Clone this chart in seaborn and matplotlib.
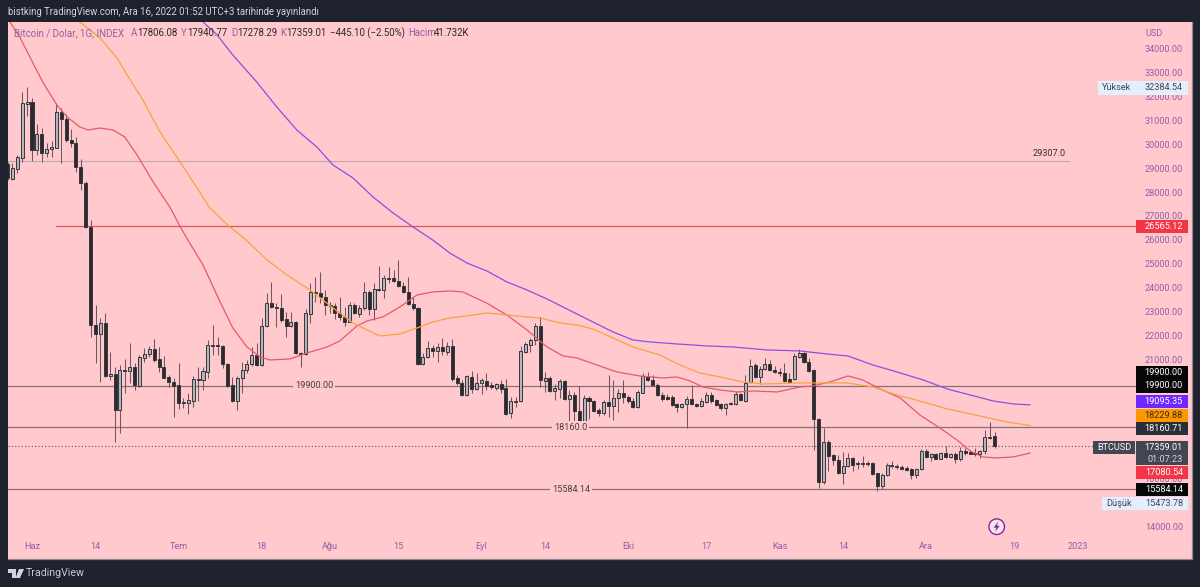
import matplotlib
matplotlib.use('Agg')
import matplotlib.pyplot as plt
from matplotlib.patches import Rectangle, Polygon, Circle
from matplotlib.transforms import Affine2D
import seaborn as sns
import pandas as pd
import numpy as np

# Gunluk mumlar, gun 0 = 1 Haziran 2022
first_day = -5
opens = [29180, 28548, 28967, 29427, 31687,
         31770, 29762, 30431, 29636, 29804, 29846, 31351, 31059, 30180, 30055,
         29050, 28381, 26540, 22440, 22063, 22523, 20306, 20390, 18883, 20557,
         20515, 20682, 19887, 21059, 21226, 21435, 21017, 20682, 20264, 20054,
         19929, 19176, 19176, 19260, 20180, 20138, 20473, 21603, 21603, 21561,
         20808, 19929, 19260, 20222, 20557, 20808, 21184, 20766, 22398, 23360,
         23193, 23151, 22691, 22398, 22565, 21268, 21226, 22900, 23820, 23779,
         23611, 23276, 23234, 22942, 22775, 22565, 23276, 22900, 23151, 23820,
         23109, 23946, 23904, 24406, 24406, 24281, 24071, 23820, 23318, 23151,
         20808, 21100, 21477, 21352, 21519, 21310, 21561, 20222, 20013, 19511,
         20264, 19762, 20013, 20096, 19929, 19803, 19971, 19803, 18757, 19260,
         19260, 21310, 21603, 21812, 22398, 20096, 20222, 19678, 19762, 20096,
         19343, 19511, 18841, 18423, 19385, 19260, 18883, 18757, 19218, 19051,
         19385, 19594, 19427, 19260, 19009, 19594, 20306, 20138, 19929, 19511,
         19427, 19427, 19134, 19009, 19134, 19343, 19134, 19051, 19218, 19511,
         19302, 19134, 18967, 19176, 19134, 19552, 19260, 20054, 20766, 20264,
         20599, 20808, 20557, 20473, 20431, 20180, 20180, 21100, 21268, 20892,
         20557, 18507, 15871, 17544, 17000, 16791, 16246, 16540, 16875, 16665,
         16665, 16665, 16665, 16246, 15703, 16163, 16540, 16540, 16498, 16456,
         16414, 16163, 16414, 17167, 16917, 17042, 16833, 17083, 16917, 17042,
         16833, 17167, 17125, 17083, 17042, 17167, 17753, 17806.08]
highs = [29260, 29217, 29553, 32188, 32384.54,
         31938, 30849, 30682, 30055, 30138, 31728, 31519, 31268, 30640, 30305,
         29385, 28464, 26833, 23276, 22733, 22942, 21310, 20682, 20766, 21017,
         21686, 20850, 21184, 21477, 21561, 21854, 21519, 21142, 20348, 20222,
         20850, 19385, 19594, 20306, 20682, 20682, 21812, 22440, 21938, 21603,
         20850, 20264, 20306, 20892, 20975, 21519, 21686, 22733, 23779, 24239,
         23360, 23737, 22984, 22984, 22607, 21310, 23109, 24197, 24448, 24657,
         23904, 23402, 23360, 23611, 23193, 23402, 23360, 23276, 24239, 23904,
         24197, 24908, 24532, 24866, 24741, 25159, 24239, 24448, 23611, 23193,
         21268, 21770, 21603, 21686, 21896, 21728, 21854, 20348, 20138, 20348,
         20515, 20431, 20222, 20431, 20054, 20013, 20138, 20180, 19427, 19427,
         21561, 21728, 21896, 22523, 22775, 20473, 20306, 19971, 20180, 20138,
         19720, 19636, 19887, 19511, 19469, 19302, 18967, 19302, 20348, 20138,
         19762, 20138, 19511, 19385, 19720, 20431, 20473, 20348, 20013, 19636,
         19552, 19511, 19176, 19176, 19469, 19929, 19176, 19385, 19636, 19636,
         19343, 19176, 19176, 19218, 19678, 19594, 20348, 21017, 20850, 20724,
         21059, 20975, 20724, 20640, 20850, 20431, 21268, 21435, 21310, 21059,
         20599, 18548, 18130, 17628, 17042, 17000, 17125, 17083, 16917, 16749,
         16958, 16749, 16707, 16246, 16246, 16665, 16749, 16623, 16582, 16540,
         16456, 16456, 17251, 17251, 17083, 17083, 17125, 17376, 17083, 17125,
         17335, 17293, 17209, 17293, 17209, 18046, 18381, 17940.77]
lows = [28510, 28506, 28800, 29259, 31184,
        29301, 29553, 29259, 29469, 29469, 29846, 29217, 30096, 29888, 28841,
        28088, 26500, 21938, 20850, 20054, 20264, 20138, 17544, 17920, 19594,
        20013, 19720, 19845, 20892, 21100, 20892, 20473, 20222, 19845, 18590,
        18925, 18967, 18716, 19009, 19260, 19720, 20222, 21184, 21184, 20640,
        19845, 19218, 18883, 19594, 20431, 20724, 20724, 20724, 22356, 23151,
        22356, 22565, 21938, 22356, 21226, 20682, 21184, 22523, 23402, 23360,
        22858, 22942, 22691, 22649, 22398, 22565, 22900, 22775, 23067, 22858,
        22649, 23862, 23570, 24197, 24239, 24029, 23779, 23276, 23067, 20766,
        20766, 21059, 21100, 20892, 21184, 21184, 20096, 19929, 19469, 19469,
        19594, 19720, 19552, 19720, 19762, 19720, 19594, 18674, 18548, 19009,
        19218, 21268, 21310, 21603, 19845, 19636, 19636, 19302, 19385, 19302,
        18256, 18340, 18340, 18340, 18507, 18799, 18632, 18674, 18590, 18465,
        18799, 19176, 19176, 18967, 18967, 19594, 20096, 19887, 19469, 19260,
        19302, 19051, 18799, 18967, 18130, 19092, 19009, 19009, 19176, 19176,
        19051, 18883, 18674, 19092, 19092, 19260, 19218, 20013, 20222, 19971,
        20557, 20515, 20431, 20306, 20054, 20013, 20138, 21059, 20850, 20473,
        17209, 15620, 15787, 16330, 16582, 16205, 15787, 16498, 16330, 16414,
        16498, 16540, 16163, 15494, 15578, 16121, 16456, 16414, 16372, 16330,
        15996, 16038, 16372, 16875, 16749, 16833, 16833, 16875, 16875, 16665,
        16749, 17000, 17042, 16958, 16875, 17042, 17670, 17278.29]
closes = [28590, 29008, 29469, 31728, 31770,
          29762, 30431, 29636, 29804, 29888, 31351, 31059, 30180, 30055, 29050,
          28381, 26540, 22440, 22063, 22523, 20306, 20390, 18883, 20557, 20515,
          20682, 19929, 21100, 21226, 21435, 20975, 20682, 20222, 20054, 19887,
          19176, 19218, 19302, 20180, 20138, 20515, 21603, 21561, 21561, 20808,
          19887, 19260, 20222, 20557, 20808, 21184, 20766, 22398, 23360, 23193,
          23151, 22649, 22398, 22565, 21268, 21226, 22942, 23820, 23779, 23611,
          23276, 23234, 22942, 22775, 22565, 23276, 22942, 23151, 23820, 23109,
          23946, 23904, 24406, 24364, 24281, 24071, 23820, 23318, 23151, 20808,
          21100, 21477, 21352, 21519, 21352, 21561, 20180, 20013, 19511, 20306,
          19762, 20013, 20138, 19887, 19845, 19971, 19762, 18716, 19260, 19218,
          21352, 21644, 21812, 22398, 20138, 20222, 19678, 19803, 20096, 19343,
          19511, 18841, 18381, 19385, 19260, 18841, 18757, 19218, 19051, 19385,
          19594, 19427, 19260, 19009, 19636, 20306, 20138, 19929, 19511, 19343,
          19343, 19092, 19009, 19134, 19343, 19134, 19051, 19260, 19511, 19260,
          19092, 18967, 19134, 19134, 19552, 19302, 20013, 20724, 20264, 20599,
          20808, 20557, 20473, 20431, 20096, 20054, 21142, 21268, 20892, 20515,
          18507, 15871, 17544, 16960, 16791, 16246, 16540, 16875, 16582, 16623,
          16623, 16623, 16205, 15703, 16163, 16582, 16582, 16498, 16414, 16372,
          16163, 16414, 17167, 16917, 17042, 16833, 17083, 16917, 17042, 16833,
          17167, 17083, 17042, 17042, 17167, 17753, 17711, 17359.01]

red_days = [-4.5, -2.5, 0.2, 2.3, 5.1, 7.2, 9.8, 11.5, 13.9, 16.6, 19, 21.5, 24.8, 28.2, 30.7, 31.9, 35, 38.5,
            41.1, 44, 46.7, 48.7, 52.8, 56.3, 60.4, 63, 66.5, 68.6, 71.8, 75.3, 78.8, 82, 85.5, 88.2, 93, 97.2,
            101.3, 105.4, 108.7, 111.5, 115.6, 119.7, 124.4, 129.1, 132, 134.7, 137.3, 140.8, 144.3, 147.6,
            152.5, 157.2, 159.8, 163.3, 167, 170, 173.6, 177.7, 181.7, 185.8, 189.3, 192, 194.6, 197.5, 200.8, 204.3]
red_ma = [35117, 34489, 33402, 32565, 31644, 31142, 30724, 30598, 30682, 30598, 30305, 29553, 28423, 27376, 26414,
          25996, 24950, 23402, 22314, 21519, 21100, 20975, 21017, 21268, 21519, 21770, 22398, 22607, 22775, 23193,
          23695, 23820, 23862, 23820, 23360, 22858, 22230, 21519, 21142, 21059, 20766, 20473, 20306, 20222, 20264,
          20096, 19845, 19720, 19636, 19678, 19636, 19845, 19887, 20054, 20306, 20138, 19762, 19385, 18674, 18130,
          17628, 17167, 16917, 16875, 16917, 17080.54]

orange_days = [9.8, 13.9, 17.4, 20.1, 22.7, 26.2, 30.3, 33.8, 36.4, 40.5, 43.6, 48.1, 52.2, 56.9, 61.6, 65.7, 68.6,
               71.2, 75.3, 78.8, 82, 85.5, 89, 93.1, 97.2, 101.3, 104, 108.1, 111.5, 114.8, 118.9, 123, 128.5, 132.6,
               136.7, 140.8, 145.5, 149.6, 157.2, 159.8, 166.8, 172.1, 177, 182.4, 187.3, 194, 199.5, 204.3]
orange_ma = [35117, 34448, 33611, 32690, 31854, 30515, 29259, 28172, 27335, 26540, 26038, 25159, 24532, 23904, 23151,
             22523, 22230, 21980, 22063, 22314, 22565, 22733, 22816, 22942, 22858, 22775, 22733, 22523, 22440, 22272,
             21896, 21519, 21184, 20766, 20431, 20264, 20054, 19971, 20013, 20013, 20013, 19845, 19511, 19218, 18925,
             18632, 18381, 18229.88]

purple_days = [35, 37.9, 41.1, 46, 50.1, 54.2, 58.3, 61.6, 65.7, 69.8, 73.9, 78, 82, 85.5, 89, 93.1, 97.2, 101.3,
               105.4, 110.7, 114.8, 118.9, 123, 126.5, 132, 138.2, 143.5, 150.4, 157.2, 162.7, 167, 172.1, 177,
               182.4, 187.3, 192, 196.7, 200.8, 204.3]
purple_ma = [35117, 34573, 33736, 32607, 31561, 30598, 29888, 29134, 28590, 27795, 27126, 26540, 25996, 25452, 25034,
             24699, 24239, 23904, 23527, 22984, 22565, 22147, 21812, 21728, 21645, 21561, 21519, 21394, 21352, 21226,
             21142, 20766, 20473, 20138, 19762, 19511, 19260, 19134, 19095.35]

price_ticks = list(range(14000, 35000, 1000))
# bu degerler sag etiketlerin altinda kaliyor
hidden_ticks = [15000, 17000, 18000, 19000, 20000]
date_ticks = [0, 13, 30, 47, 61, 75, 92, 105, 122, 138, 153, 166, 183, 201, 214]
date_labels = ['Haz', '14', 'Tem', '18', 'Ağu', '15', 'Eyl', '14', 'Eki', '17', 'Kas', '14', 'Ara', '19', '2023']

BG = '#ffc9cd'
DARK = '#1e222d'
AXIS_TXT = '#935fa8'
LINE = '#8a6f73'

sns.set_theme(style='white')
plt.rcParams['font.family'] = ['Roboto', 'DejaVu Sans']

fig = plt.figure(figsize=(12, 5.87), dpi=100, facecolor=DARK)
ax = fig.add_axes([8 / 1200, 1 - 558.5 / 587, (1191.7 - 8) / 1200, (558.5 - 22) / 587], facecolor=BG)

# piksel koordinati, etiketler icin
px = Affine2D().scale(1 / 1200, -1 / 587).translate(0, 1) + fig.transFigure

df = pd.DataFrame({'day': first_day + np.arange(len(opens)), 'open': opens, 'high': highs, 'low': lows, 'close': closes})
df['up'] = df['close'] >= df['open']

ax.vlines(df['day'], df['low'], df['high'], color='#6a5a5f', lw=0.75, zorder=2)
body_colors = ['#b3b6bd' if u else '#2b2a2f' for u in df['up']]
ax.bar(df['day'], (df['close'] - df['open']).abs(), bottom=df[['open', 'close']].min(axis=1), width=0.62,
       color=body_colors, edgecolor='#38363b', linewidth=0.7, zorder=3)

sns.lineplot(x=red_days, y=red_ma, ax=ax, color='#e65a68', lw=0.9, sort=False, estimator=None, zorder=4)
sns.lineplot(x=orange_days, y=orange_ma, ax=ax, color='#f9a23f', lw=0.9, sort=False, estimator=None, zorder=4)
sns.lineplot(x=purple_days, y=purple_ma, ax=ax, color='#8b50e2', lw=0.9, sort=False, estimator=None, zorder=4)

day_right = 1136
ax.set_xlim(-4.91, 237.35)
ax.set_ylim(12667, 35117)

def hline(value, x0, x1, color, lw=0.9, ls='-'):
    d0 = (x0 - 32) / 4.886
    d1 = (x1 - 32) / 4.886
    ax.plot([d0, d1], [value, value], color=color, lw=lw, ls=ls, zorder=1.5)

hline(29307, 8, 1069, '#bfa9ad', 0.8)
hline(26565.12, 56, day_right, '#e8505c', 0.9)
hline(19900, 8, day_right, LINE)
hline(18160.71, 8, day_right, LINE)
hline(15584.14, 8, day_right, LINE)
hline(17359.01, 8, 1093, '#5f5458', 0.8, (0, (1, 2)))

ax.set_xticks(date_ticks)
ax.set_xticklabels(date_labels)
ax.yaxis.tick_right()
ax.set_yticks(price_ticks)
ax.set_yticklabels(['' if t in hidden_ticks else f'{t:.2f}' for t in price_ticks], ha='right')
ax.tick_params(axis='y', length=0, pad=-6.3, labelsize=6.6, labelcolor=AXIS_TXT)
ax.tick_params(axis='x', length=0, pad=-12, labelsize=6.6, labelcolor=AXIS_TXT)
ax.set_xlabel('')
ax.set_ylabel('')
for s in ['top', 'left']:
    ax.spines[s].set_visible(False)
for s in ['bottom', 'right']:
    ax.spines[s].set_color('#94858c')
    ax.spines[s].set_linewidth(0.9)

def put(x, y, s, color='#2a2a2e', size=6.6, ha='left', **kw):
    return ax.text(x, y, s, transform=px, color=color, fontsize=size, ha=ha, va='center', clip_on=False, zorder=7, **kw)

def tag(x0, x1, y0, y1, color):
    ax.add_patch(Rectangle((x0, y0), x1 - x0, y1 - y0, transform=px, facecolor=color, edgecolor='none', zorder=6, clip_on=False))

# sag olcek etiketleri
put(1145, 33, 'USD', AXIS_TXT)
tag(1098, 1188, 81, 95, '#e3effd')
put(1102, 88, 'Yüksek', '#434651')
put(1183, 88, '32384.54', '#434651', ha='right')
tag(1136, 1188, 220, 233, '#f23645')
put(1183, 226.5, '26565.12', 'white', ha='right')
tag(1136, 1188, 366, 379, '#060606')
put(1183, 372.5, '19900.00', 'white', ha='right')
tag(1136, 1188, 379, 393, '#060606')
put(1183, 386, '19900.00', 'white', ha='right')
tag(1136, 1188, 395, 408, '#7127ff')
put(1183, 401.5, '19095.35', 'white', ha='right')
tag(1136, 1188, 409, 422, '#ff9800')
put(1183, 415.5, '18229.88', '#3a2a10', ha='right')
tag(1136, 1188, 422, 435, '#2a2e39')
put(1183, 428.5, '18160.71', 'white', ha='right')
tag(1093, 1135, 441, 454, '#434651')
put(1114, 447.5, 'BTCUSD', 'white', ha='center')
tag(1136, 1188, 441, 465, '#434651')
put(1183, 447.5, '17359.01', 'white', ha='right')
put(1183, 459, '01:07:23', '#d1d4dc', ha='right')
tag(1136, 1188, 466, 479, '#f23645')
put(1183, 472.5, '17080.54', 'white', ha='right')
tag(1136, 1188, 483, 496, '#060606')
put(1183, 489.5, '15584.14', 'white', ha='right')
tag(1102, 1188, 497, 510, '#e3effd')
put(1106, 503, 'Düşük', '#434651')
put(1183, 503.5, '15473.78', '#434651', ha='right')

# yatay cizgi etiketleri
box = dict(facecolor=BG, edgecolor='none', pad=1.5)
put(1033, 153, '29307.0', '#3a3034')
put(295, 386, '19900.00', '#4a3f43', bbox=box)
put(554, 428, '18160.0', '#4a3f43', bbox=box)
put(552, 489.5, '15584.14', '#4a3f43', bbox=box)

# ust baslik ve sembol satiri
fig.text(8 / 1200, 1 - 12 / 587, 'bistking TradingView.com, Ara 16, 2022 01:52 UTC+3 tarihinde yayınlandı', color='#d1d4dc', fontsize=6.9, va='center')
put(14, 33, 'Bitcoin / Dolar, 1G, INDEX', AXIS_TXT, 7.05)
for x, s in [(131, 'A'), (181, 'Y'), (231, 'D'), (280, 'K'), (408, 'Hacim')]:
    put(x, 33, s, AXIS_TXT, 6.9)
for x, s in [(137, '17806.08'), (187, '17940.77'), (237, '17278.29'), (286, '17359.01'), (330, '−445.10 (−2.50%)'), (434, '41.732K')]:
    put(x, 33, s, '#2a2a2e', 6.9)

# alt logo
for pts in [[(8, 569), (16, 569), (16, 578), (12, 578), (12, 572.5), (8, 572.5)],
            [(19, 569), (24, 569), (20, 578), (15.5, 578)]]:
    fig.add_artist(Polygon(pts, transform=px, facecolor='#d1d4dc', edgecolor='none'))
fig.text(26 / 1200, 1 - 573 / 587, 'TradingView', color='#c8cbd3', fontsize=7.7, va='center')

# simsek simgesi
ax.add_patch(Circle((996.7, 526.7), 7.8, transform=px, facecolor='#fbe4ee', edgecolor='#7b2d9e', lw=1.0, zorder=6, clip_on=False))
ax.add_patch(Polygon([(998.2, 521.5), (993.7, 527.7), (996.4, 527.7), (995.2, 532), (999.7, 525.8), (997, 525.8)], transform=px,
                     facecolor='#7b2d9e', edgecolor='none', zorder=7, clip_on=False))

fig.savefig('out.png', dpi=100, facecolor=DARK)
